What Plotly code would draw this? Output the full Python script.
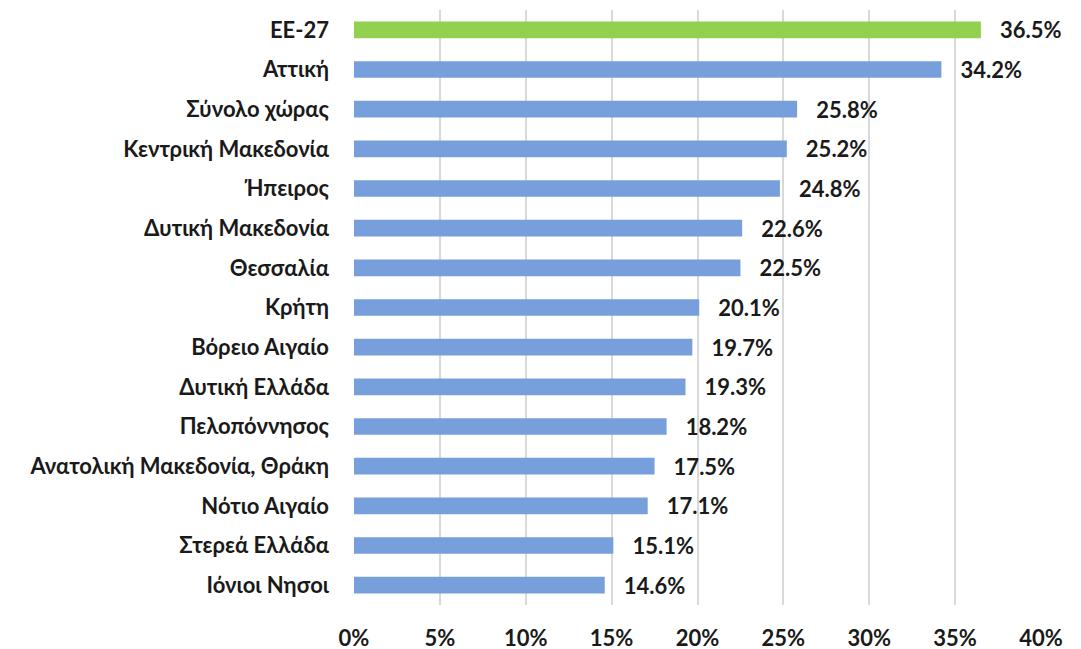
import plotly.graph_objects as go

categories = ["EE-27", "Αττική", "Σύνολο χώρας", "Κεντρική Μακεδονία", "Ήπειρος",
              "Δυτική Μακεδονία", "Θεσσαλία", "Κρήτη", "Βόρειο Αιγαίο", "Δυτική Ελλάδα",
              "Πελοπόννησος", "Ανατολική Μακεδονία, Θράκη", "Νότιο Αιγαίο", "Στερεά Ελλάδα",
              "Ιόνιοι Νησοι"]
values = [36.5, 34.2, 25.8, 25.2, 24.8, 22.6, 22.5, 20.1, 19.7, 19.3, 18.2, 17.5, 17.1, 15.1, 14.6]
tick_vals = [0, 5, 10, 15, 20, 25, 30, 35, 40]
tick_text = ["0%", "5%", "10%", "15%", "20%", "25%", "30%", "35%", "40%"]

colors = ["#92D050" if c == "EE-27" else "#779FDC" for c in categories]
font_family = "Lato, Carlito, Calibri, sans-serif"
fsize = 22

fig = go.Figure(go.Bar(
    x=values, y=categories, orientation="h",
    marker=dict(color=colors, line=dict(width=0)),
    text=[f"   {v:.1f}%" for v in values],
    textposition="outside", cliponaxis=False, constraintext="none",
    textfont=dict(family=font_family, size=fsize, color="#1a1a1a", weight="bold"),
    width=0.42,
))

fig.update_layout(
    width=1081, height=649,
    margin=dict(l=346, r=48, t=2, b=52, autoexpand=False),
    plot_bgcolor="white", paper_bgcolor="white",
    showlegend=False,
    uniformtext=dict(mode=False),
    font=dict(family=font_family, size=fsize, color="#1a1a1a", weight="bold"),
)
fig.update_xaxes(
    range=[0, 40], tickvals=tick_vals, ticktext=tick_text,
    showgrid=True, gridcolor="#d9d9d9", gridwidth=1.5,
    zeroline=False, showline=False, automargin=False,
    ticklabelstandoff=18,
    tickfont=dict(family=font_family, size=fsize, color="#1a1a1a", weight="bold"),
)
fig.update_yaxes(
    autorange="reversed", showgrid=False, showline=False, automargin=False,
    ticklabelstandoff=24,
    tickfont=dict(family=font_family, size=fsize, color="#1a1a1a", weight="bold"),
)

fig.write_html("out.html")
